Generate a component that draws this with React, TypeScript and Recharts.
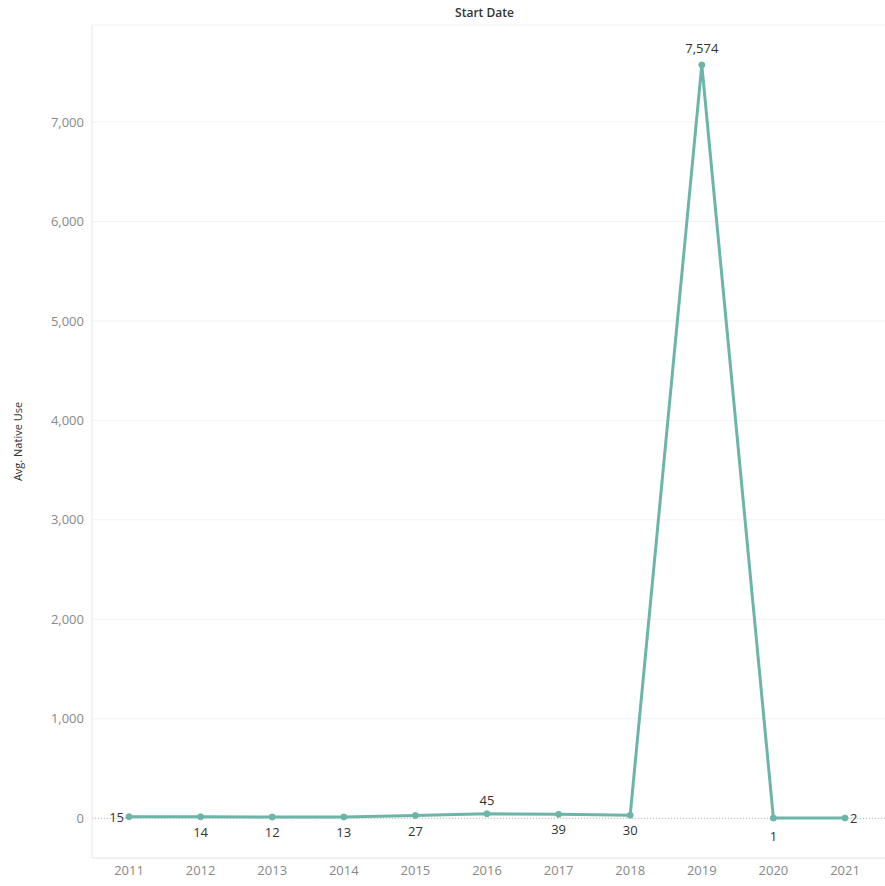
import { LineChart, Line, XAxis, YAxis, CartesianGrid, ReferenceLine, LabelList } from 'recharts';

const YEARS = ['2011', '2012', '2013', '2014', '2015', '2016', '2017', '2018', '2019', '2020', '2021'];
const AVG_NATIVE_USE = [15, 14, 12, 13, 27, 45, 39, 30, 7574, 1, 2];
const Y_TICKS = [0, 1000, 2000, 3000, 4000, 5000, 6000, 7000];
// where each point's label sits
const LABEL_SIDE = ['left', 'below', 'below', 'below', 'below', 'above', 'below', 'below', 'above', 'below', 'right'];

const data = YEARS.map((year, i) => ({ year, value: AVG_NATIVE_USE[i] }));

const FONT = '"Open Sans", "Noto Sans", sans-serif';
const TEAL = '#6cb5a8';

const renderLabel = (props: any) => {
  const { x, y, value, index } = props;
  const side = LABEL_SIDE[index];
  const text = Number(value).toLocaleString('en-US');
  let tx = x;
  let ty = y;
  let anchor: 'start' | 'middle' | 'end' = 'middle';
  if (side === 'left') {
    tx = x - 5;
    anchor = 'end';
  } else if (side === 'right') {
    tx = x + 5;
    anchor = 'start';
  } else if (side === 'above') {
    ty = y - (index === 8 ? 17 : 14);
  } else {
    ty = y + (index === 9 ? 18 : 15);
  }
  return (
    <text x={tx} y={ty} textAnchor={anchor} dominantBaseline="central" fill="#333" fontSize={13} fontFamily={FONT}>
      {text}
    </text>
  );
};

export default function App() {
  return (
    <div style={{ position: 'absolute', left: 0, top: 0, width: 885, height: 886, background: '#fff' }}>
      <div
        style={{
          position: 'absolute',
          left: 92,
          width: 785,
          top: 4,
          textAlign: 'center',
          fontFamily: FONT,
          fontSize: 12,
          fontWeight: 600,
          color: '#333',
        }}
      >
        Start Date
      </div>
      <LineChart width={885} height={886} data={data} margin={{ top: 25, right: 0, bottom: 0, left: 0 }}>
        <CartesianGrid vertical={false} stroke="#f2f2f2" />
        <XAxis
          dataKey="year"
          height={28}
          padding={{ left: 37, right: 40 }}
          tickLine={false}
          axisLine={{ stroke: '#e8e8e8' }}
          tick={{ fill: '#888', fontSize: 13, fontFamily: FONT }}
          interval={0}
        />
        <YAxis
          width={92}
          domain={[-400, 7975]}
          ticks={Y_TICKS}
          allowDataOverflow
          tickLine={false}
          axisLine={{ stroke: '#e8e8e8' }}
          tickFormatter={(v: number) => v.toLocaleString('en-US')}
          tick={{ fill: '#888', fontSize: 13, fontFamily: FONT }}
          label={{
            value: 'Avg. Native Use',
            angle: -90,
            position: 'center',
            dx: -28,
            fill: '#333',
            fontSize: 11,
            fontFamily: FONT,
          }}
        />
        <ReferenceLine y={0} stroke="#bbb" strokeDasharray="1 2" />
        <Line
          dataKey="value"
          stroke={TEAL}
          strokeWidth={3}
          dot={{ r: 3, fill: TEAL, stroke: TEAL, strokeWidth: 1 }}
          activeDot={false}
          isAnimationActive={false}
        >
          <LabelList dataKey="value" content={renderLabel} />
        </Line>
      </LineChart>
    </div>
  );
}
